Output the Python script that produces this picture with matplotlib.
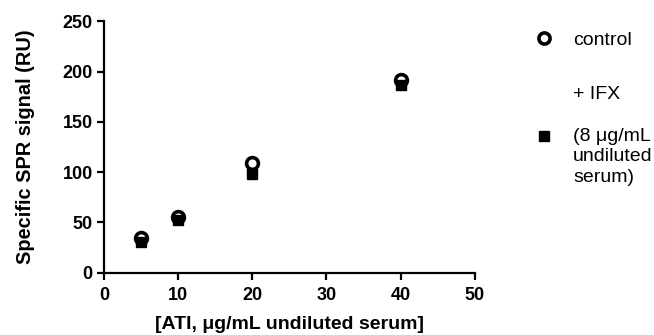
import matplotlib.pyplot as plt
from matplotlib.lines import Line2D

plt.rcParams['font.family'] = ['Liberation Sans', 'DejaVu Sans']

# ATI concentration (ug/mL undiluted serum)
conc = [5, 10, 20, 40]
# specific SPR signal (RU)
control = [35, 55, 109, 192]
ifx = [31, 52, 98, 187]

x_ticks = [0, 10, 20, 30, 40, 50]
y_ticks = [0, 50, 100, 150, 200, 250]

fig = plt.figure(figsize=(6.54, 3.35), dpi=100)
ax = fig.add_axes([0.159, 0.186, 0.567, 0.75])

ax.plot(conc, control, 'o', ms=8.5, mfc='white', mec='black', mew=2.6,
        linestyle='none', zorder=3)
ax.plot(conc, ifx, 's', ms=7.5, color='black', linestyle='none', zorder=4)

ax.set_xlim(0, 50)
ax.set_ylim(0, 250)
ax.set_xticks(x_ticks)
ax.set_yticks(y_ticks)
for side in ['top', 'right']:
    ax.spines[side].set_visible(False)
for side in ['left', 'bottom']:
    ax.spines[side].set_linewidth(1.6)
ax.tick_params(width=1.6, length=5, labelsize=13, pad=3)
ax.tick_params(axis='x', pad=5)
for lab in ax.get_xticklabels() + ax.get_yticklabels():
    lab.set_fontweight('bold')

ax.set_xlabel('[ATI, \u03bcg/mL undiluted serum]', fontsize=14,
              fontweight='bold', labelpad=9)
ax.set_ylabel('Specific SPR signal (RU)', fontsize=14.4,
              fontweight='bold', labelpad=20)

handles = [
    Line2D([], [], marker='o', ms=8, mfc='white', mec='black', mew=2.6,
           linestyle='none'),
    Line2D([], [], marker='s', ms=7, color='black', linestyle='none'),
]
labels = ['control', '+ IFX\n\n(8 \u03bcg/mL\nundiluted\nserum)']
leg = fig.legend(handles, labels, loc='upper left',
                 bbox_to_anchor=(0.805, 0.93), frameon=False, fontsize=14,
                 labelspacing=1.9, handletextpad=1.0, handlelength=1.0,
                 borderaxespad=0)
for t in leg.get_texts():
    t.set_linespacing(1.3)

fig.savefig('out.png', dpi=100)
